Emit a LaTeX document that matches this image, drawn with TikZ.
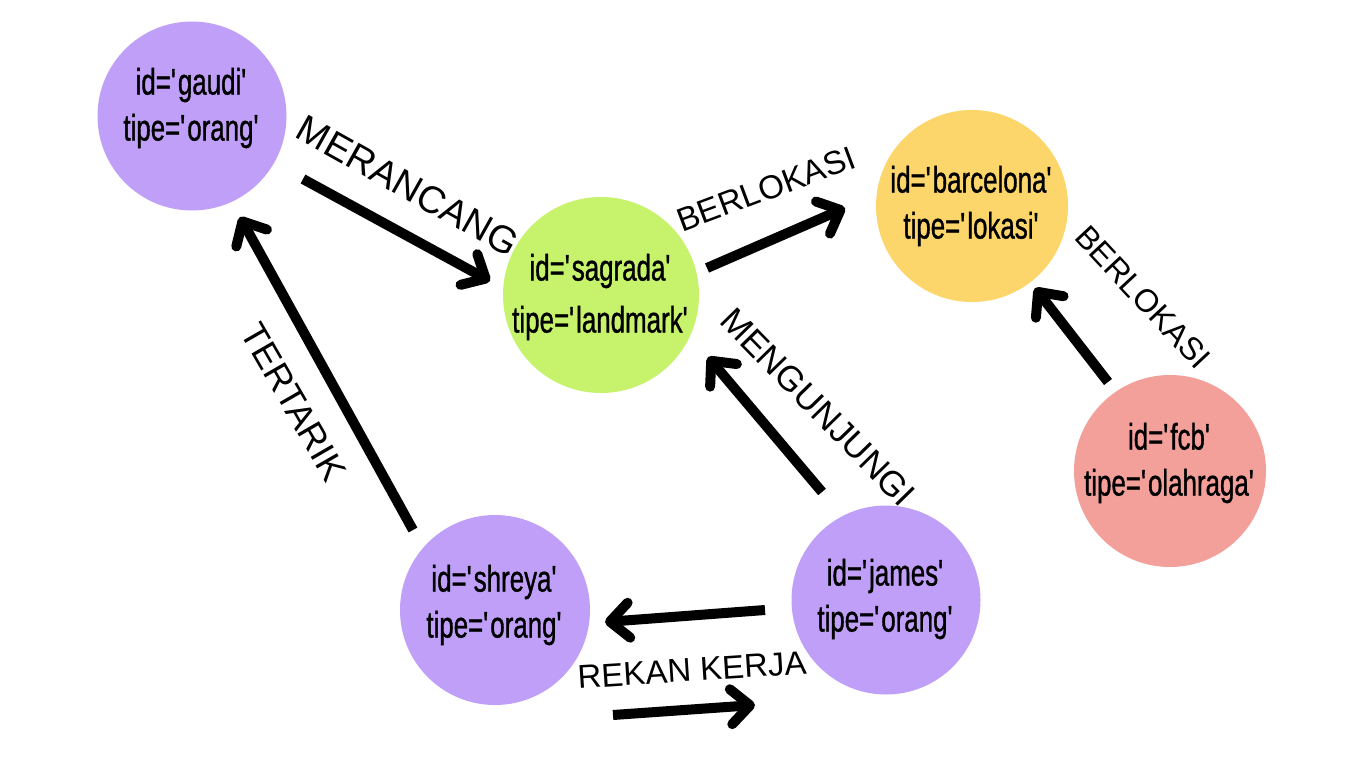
\documentclass[tikz,border=0pt]{standalone}
\usepackage{fontspec}
\setmainfont{Liberation Sans}
\newfontfamily\nodefont[FakeStretch=0.70,FakeBold=0.9]{Liberation Sans}
\usetikzlibrary{arrows.meta}
\definecolor{cPurple}{HTML}{BF9FF8}
\definecolor{cGreen}{HTML}{C6F26C}
\definecolor{cYellow}{HTML}{FCD66A}
\definecolor{cPink}{HTML}{F3A09B}
\newcommand{\q}{\textquotesingle}
\begin{document}
\begin{tikzpicture}[x=1pt,y=-1pt,
  ent/.style={circle, inner sep=0pt, minimum size=190pt},
  txt/.style={inner sep=0pt, align=center, font=\nodefont\fontsize{37}{46}\selectfont},
  rel/.style={inner sep=0pt},
  conn/.style={line width=10pt, -{Straight Barb[length=19pt,width=35pt,round]}},
]
\useasboundingbox (0,0) rectangle (1365,768);
\fill[white] (0,0) rectangle (1365,768);

% entities
\node[ent, fill=cPurple, minimum size=189pt,
  label={[txt, yshift=8pt]center:{id=\q gaudi\q\\tipe=\q orang\q}}] (gaudi) at (192,116) {};
\node[ent, fill=cGreen, minimum size=196pt,
  label={[txt, yshift=-2pt]center:{id=\q sagrada\q\\[6pt]tipe=\q landmark\q}}] (sagrada) at (601,295) {};
\node[ent, fill=cYellow, minimum size=192pt,
  label={[txt]center:{id=\q barcelona\q\\tipe=\q lokasi\q}}] (barcelona) at (972,206) {};
\node[ent, fill=cPink, minimum size=192pt,
  label={[txt, yshift=8pt]center:{id=\q fcb\q\\tipe=\q olahraga\q}}] (fcb) at (1170,471) {};
\node[ent, fill=cPurple, minimum size=190pt,
  label={[txt, yshift=5pt]center:{id=\q shreya\q\\tipe=\q orang\q}}] (shreya) at (495,610) {};
\node[ent, fill=cPurple, minimum size=189pt,
  label={[txt, yshift=1pt]center:{id=\q james\q\\tipe=\q orang\q}}] (james) at (886,600) {};

% connector end points
\coordinate (gs1) at (303,179);  \coordinate (gs2) at (490,281);
\coordinate (sb1) at (707,268);  \coordinate (sb2) at (845,208);
\coordinate (fb1) at (1108,382); \coordinate (fb2) at (1035,288);
\coordinate (js1) at (822,492);  \coordinate (js2) at (708,357);
\coordinate (sg1) at (413,530);  \coordinate (sg2) at (240,217);
\coordinate (jr1) at (765,610);  \coordinate (jr2) at (605,622);
\coordinate (sj1) at (613,715);  \coordinate (sj2) at (755,705);

\draw[conn] (gs1) -- (gs2);
\draw[conn] (sb1) -- (sb2);
\draw[conn] (fb1) -- (fb2);
\draw[conn] (js1) -- (js2);
\draw[conn] (sg1) -- (sg2);
\draw[conn] (jr1) -- (jr2);
\draw[conn] (sj1) -- (sj2);

% labels
\node[rel, rotate=-29.3, font=\fontsize{38}{40}\selectfont] (lmer) at (408,186) {MERANCANG};
\node[rel, rotate=20.5, font=\fontsize{33}{40}\selectfont] (lber1) at (766,189) {BERLOKASI};
\node[rel, rotate=-47, font=\fontsize{32}{40}\selectfont] (lber2) at (1143,297) {BERLOKASI};
\node[rel, rotate=-45.6, font=\fontsize{35}{40}\selectfont] (lmen) at (818,407) {MENGUNJUNGI};
\node[rel, rotate=-60, font=\fontsize{36}{40}\selectfont] (lter) at (294,402) {TERTARIK};
\node[rel, rotate=3.7, font=\fontsize{33}{40}\selectfont] (lrek) at (692,670) {REKAN KERJA};
\end{tikzpicture}
\end{document}
